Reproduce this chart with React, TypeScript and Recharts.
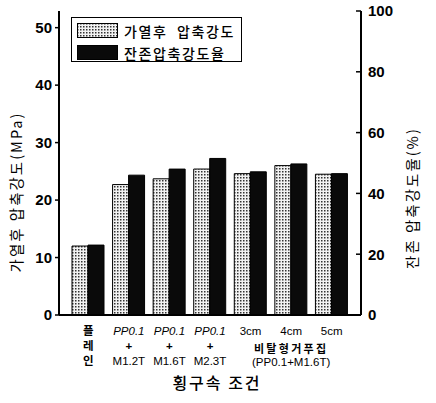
import React from 'react';
import { BarChart, Bar, XAxis, YAxis, Legend } from 'recharts';

const categories = ['플레인', 'PP0.1+M1.2T', 'PP0.1+M1.6T', 'PP0.1+M2.3T', '3cm', '4cm', '5cm'];
const tickLine1 = ['플', 'PP0.1', 'PP0.1', 'PP0.1', '3cm', '4cm', '5cm'];
const tickLine2 = ['레', '+', '+', '+', '', '비탈형거푸집', ''];
const tickLine3 = ['인', 'M1.2T', 'M1.6T', 'M2.3T', '', '(PP0.1+M1.6T)', ''];
const strengthAfterHeating = [12.0, 22.7, 23.7, 25.4, 24.6, 26.0, 24.5];
const residualRatio = [23.0, 46.0, 48.0, 51.5, 47.1, 49.7, 46.5];
const leftTicks = [0, 10, 20, 30, 40, 50];
const rightTicks = [0, 20, 40, 60, 80, 100];

const seriesNames = ['가열후  압축강도', '잔존압축강도율'];

const data = categories.map((c, i) => ({
  name: c,
  idx: i,
  strength: strengthAfterHeating[i],
  ratio: residualRatio[i],
}));

const FONT = '"Liberation Sans", Arial, sans-serif';
const KFONT = '"Noto Sans CJK KR", "Noto Sans", sans-serif';

const XTick = (props: any) => {
  const { x, y, payload } = props;
  const i = payload.index;
  const isGroup = i === 5;
  const l1 = tickLine1[i];
  return (
    <g>
      <text x={x} y={y + 20} textAnchor="middle" fontSize={11.5} fontFamily={i === 0 ? KFONT : FONT}
        fontWeight={i === 0 ? 700 : 400}
        fontStyle={l1 === 'PP0.1' ? 'italic' : 'normal'} fill="#000">{l1}</text>
      {tickLine2[i] && (
        <text x={x} y={y + (isGroup ? 38 : 35)} textAnchor="middle" fontSize={isGroup ? 11 : 11.5}
          fontFamily={i === 0 || isGroup ? KFONT : FONT} fontWeight={700}
          letterSpacing={isGroup ? 2.3 : 0} fill="#000">{tickLine2[i]}</text>
      )}
      {tickLine3[i] && (
        <text x={x} y={y + (isGroup ? 51 : 50)} textAnchor="middle" fontSize={11.5}
          fontFamily={i === 0 ? KFONT : FONT} fontWeight={i === 0 ? 700 : 400} fill="#000">{tickLine3[i]}</text>
      )}
    </g>
  );
};

const LegendContent = () => (
  <div style={{ border: '1.5px solid #000', width: 171, height: 45, boxSizing: 'border-box', background: '#fff', position: 'relative' }}>
    {seriesNames.map((n, i) => (
      <div key={n} style={{ position: 'absolute', left: 5, top: i === 0 ? 4.5 : 26.5, height: 16, display: 'flex', alignItems: 'center' }}>
        <svg width={41} height={15} style={{ display: 'block' }}>
          <rect x={0.5} y={0.5} width={40} height={14} fill={i === 0 ? 'url(#dots)' : '#0a0a0a'} stroke="#000" strokeWidth={1} />
        </svg>
        <span style={{ marginLeft: 6, fontFamily: KFONT, fontSize: 14, fontWeight: 500, letterSpacing: 1.6, whiteSpace: 'pre', color: '#000', lineHeight: '16px' }}>{n}</span>
      </div>
    ))}
  </div>
);

export default function App() {
  return (
    <div style={{ position: 'absolute', left: 0, top: 0, width: 436, height: 403, background: '#fff' }}>
      <BarChart width={436} height={403} data={data} margin={{ top: 11, right: 0, bottom: 0, left: 0 }} barGap={0} barSize={16}>
        <defs>
          <pattern id="dots" width={3} height={3} patternUnits="userSpaceOnUse">
            <rect width={3} height={3} fill="#f2f2f2" />
            <rect x={0} y={0} width={1.5} height={1.5} fill="#333" />
          </pattern>
        </defs>
        <XAxis dataKey="name" xAxisId="0" height={88} padding={{ left: 9, right: 9 }}
          axisLine={{ stroke: '#000', strokeWidth: 2 }} tickLine={false} tickSize={0} tickMargin={0}
          interval={0} tick={<XTick />}
          label={{
            content: (p: any) => {
              const vb = p.viewBox;
              return (
                <text x={vb.x + vb.width / 2 + 7} y={vb.y + 74} textAnchor="middle" fontFamily={KFONT}
                  fontSize={16} fontWeight={500} letterSpacing={2} fill="#000">횡구속 조건</text>
              );
            },
          }}
        />
        <XAxis dataKey="name" xAxisId="top" orientation="top" height={0} tick={false} tickLine={false}
          axisLine={{ stroke: '#000', strokeWidth: 1.5 }} />
        <YAxis yAxisId="left" orientation="left" width={59} domain={[0, 52.9]} ticks={leftTicks}
          allowDataOverflow axisLine={{ stroke: '#000', strokeWidth: 2 }} tickLine={{ stroke: '#000', strokeWidth: 1.5 }}
          tickSize={4} tickMargin={3}
          tick={{ fill: '#000', fontSize: 15, fontWeight: 700, fontFamily: FONT }}
          label={{
            content: () => (
              <text x={22} y={192} transform="rotate(-90 22 192)" textAnchor="middle" fontFamily={KFONT}
                fontSize={14.5} letterSpacing={2} fill="#000">가열후 압축강도(MPa)</text>
            ),
          }}
        />
        <YAxis yAxisId="right" orientation="right" width={75} domain={[0, 100]} ticks={rightTicks}
          axisLine={{ stroke: '#000', strokeWidth: 2 }} tickLine={{ stroke: '#000', strokeWidth: 1.5 }}
          tickSize={-5} tickMargin={12}
          tick={{ fill: '#000', fontSize: 15, fontWeight: 700, fontFamily: FONT }}
          label={{
            content: () => (
              <text x={418} y={198} transform="rotate(-90 418 198)" textAnchor="middle" fontFamily={KFONT}
                fontSize={14.5} letterSpacing={2} fill="#000">잔존 압축강도율(%)</text>
            ),
          }}
        />
        <Legend layout="horizontal" verticalAlign="middle" align="center" content={<LegendContent />}
          wrapperStyle={{ position: 'absolute', top: 17, left: 71, width: 171, height: 45 }} />
        <Bar dataKey="strength" yAxisId="left" xAxisId="0" name={seriesNames[0]} fill="url(#dots)" stroke="#000" strokeWidth={1} isAnimationActive={false} />
        <Bar dataKey="ratio" yAxisId="right" xAxisId="0" name={seriesNames[1]} fill="#0a0a0a" stroke="#000" strokeWidth={1} isAnimationActive={false} />
      </BarChart>
    </div>
  );
}
